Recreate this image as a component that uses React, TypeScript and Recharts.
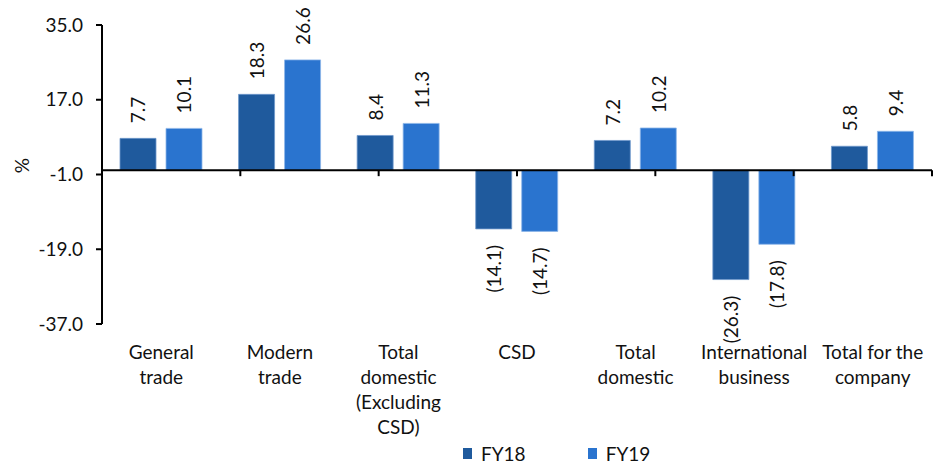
import { BarChart, Bar, XAxis, YAxis, ReferenceLine, LabelList } from "recharts";

// Growth by segment, FY18 vs FY19 (%)
const categories = [
  "General trade",
  "Modern trade",
  "Total domestic (Excluding CSD)",
  "CSD",
  "Total domestic",
  "International business",
  "Total for the company",
];
const categoryLines = [
  ["General", "trade"],
  ["Modern", "trade"],
  ["Total", "domestic", "(Excluding", "CSD)"],
  ["CSD"],
  ["Total", "domestic"],
  ["International", "business"],
  ["Total for the", "company"],
];
const fy18 = [7.7, 18.3, 8.4, -14.1, 7.2, -26.3, 5.8];
const fy19 = [10.1, 26.6, 11.3, -14.7, 10.2, -17.8, 9.4];
const yTicks = [-37, -19, -1, 17, 35];
const boundaryTicks = [1, 2, 3, 4, 5, 6, 7];

const FONT = "Lato, 'Liberation Sans', sans-serif";
const FS = 19;
const DARK = "#1F5A9D";
const LIGHT = "#2A74CF";

const data = categories.map((name, i) => ({ name, index: i, fy18: fy18[i], fy19: fy19[i] }));

// value labels: rotated, above positive bars and below negative ones, negatives in brackets
function ValueLabel(props: any) {
  const vb = props.viewBox ?? props;
  const x = vb.x ?? props.x;
  const y = vb.y ?? props.y;
  const width = vb.width ?? props.width;
  const height = vb.height ?? props.height;
  const value = Number(props.value);
  const cx = x + width / 2;
  const top = Math.min(y, y + height);
  const bottom = Math.max(y, y + height);
  if (value >= 0) {
    const py = top - 15;
    return (
      <text x={cx} y={py} transform={`rotate(-90 ${cx} ${py})`} textAnchor="start"
        dominantBaseline="central" fontSize={FS} fontFamily={FONT} fill="#111">
        {value.toFixed(1)}
      </text>
    );
  }
  const py = bottom + 16;
  return (
    <text x={cx} y={py} transform={`rotate(-90 ${cx} ${py})`} textAnchor="end"
      dominantBaseline="central" fontSize={FS} fontFamily={FONT} fill="#111">
      ({Math.abs(value).toFixed(1)})
    </text>
  );
}

function CategoryTick(props: any) {
  const { x, y, payload } = props;
  const lines = categoryLines[payload.index] ?? [String(payload.value)];
  return (
    <text x={x} y={y} textAnchor="middle" fontSize={FS} fontFamily={FONT} fill="#111">
      {lines.map((line, i) => (
        <tspan key={i} x={x} dy={i === 0 ? 35 : 25}>{line}</tspan>
      ))}
    </text>
  );
}

function PercentLabel(props: any) {
  const vb = props.viewBox;
  const px = vb.x + 21;
  const py = vb.y + vb.height / 2 - 9;
  return (
    <text x={px} y={py} transform={`rotate(-90 ${px} ${py})`} textAnchor="middle"
      dominantBaseline="central" fontSize={FS} fontFamily={FONT} fill="#111">
      %
    </text>
  );
}

export default function App() {
  return (
    <div style={{ position: "absolute", left: 0, top: 0, width: 939, height: 468, background: "#fff" }}>
      <BarChart width={939} height={468} data={data}
        margin={{ top: 25, right: 7, bottom: 24, left: 0 }} barGap={10}>
        <XAxis dataKey="name" axisLine={false} tickLine={false} tickSize={0} tickMargin={0}
          height={120} interval={0} tick={<CategoryTick />} />
        <XAxis xAxisId="grid" type="number" domain={[0, 7]} hide />
        <YAxis domain={[-37, 35]} ticks={yTicks} width={102} interval={0}
          tickFormatter={(v: number) => v.toFixed(1)}
          axisLine={{ stroke: "#000", strokeWidth: 2 }}
          tickLine={{ stroke: "#000", strokeWidth: 2 }} tickSize={6} tickMargin={13}
          tick={{ fill: "#111", fontSize: FS, fontFamily: FONT }}
          label={<PercentLabel />} />
        <Bar dataKey="fy18" name="FY18" fill={DARK} stroke="#6F98CC" strokeWidth={0.8}
          barSize={36} isAnimationActive={false}>
          <LabelList dataKey="fy18" content={<ValueLabel />} />
        </Bar>
        <Bar dataKey="fy19" name="FY19" fill={LIGHT} stroke="#8DB6E8" strokeWidth={0.8}
          barSize={36} isAnimationActive={false}>
          <LabelList dataKey="fy19" content={<ValueLabel />} />
        </Bar>
        <ReferenceLine y={0} stroke="#000" strokeWidth={2} />
        {boundaryTicks.map((t) => (
          <ReferenceLine key={t} xAxisId="grid" stroke="#000" strokeWidth={2}
            segment={[{ x: t, y: 0 }, { x: t, y: -1.4 }]} />
        ))}
      </BarChart>
      <div style={{ position: "absolute", top: 442, left: 463, display: "flex", alignItems: "center",
        fontFamily: FONT, fontSize: FS, color: "#111" }}>
        <span style={{ width: 9, height: 11, background: DARK, display: "inline-block", marginRight: 9 }} />
        <span style={{ marginRight: 62 }}>FY18</span>
        <span style={{ width: 9, height: 11, background: LIGHT, display: "inline-block", marginRight: 9 }} />
        <span>FY19</span>
      </div>
    </div>
  );
}
